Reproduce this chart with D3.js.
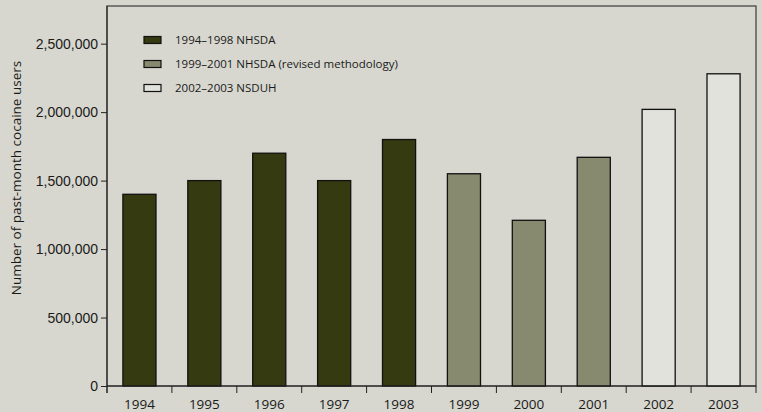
<!DOCTYPE html>
<html>
<head>
<meta charset="utf-8">
<script src="https://cdn.jsdelivr.net/npm/d3@7"></script>
<style>
  html, body { margin: 0; padding: 0; background: #d7d7cf; }
  svg { display: block; font-family: "Open Sans", "Noto Sans", sans-serif; }
</style>
</head>
<body>
<svg id="chart" width="762" height="412"></svg>
<script>
const years = ["1994", "1995", "1996", "1997", "1998", "1999", "2000", "2001", "2002", "2003"];
const users = [1400000, 1500000, 1700000, 1500000, 1800000, 1550000, 1210000, 1670000, 2020000, 2280000];
const survey = [0, 0, 0, 0, 0, 1, 1, 1, 2, 2];
const seriesNames = ["1994\u20131998 NHSDA", "1999\u20132001 NHSDA (revised methodology)", "2002\u20132003 NSDUH"];
const seriesColors = ["#353a10", "#878a6e", "#e1e2dc"];
const yTicks = [0, 500000, 1000000, 1500000, 2000000, 2500000];

const margin = { top: 6, right: 6, bottom: 26, left: 107 };
const width = 762, height = 412;

const svg = d3.select("#chart");

const x = d3.scaleBand()
  .domain(years)
  .range([margin.left, width - margin.right])
  .paddingInner(0.49)
  .paddingOuter(0.245);

const y = d3.scaleLinear()
  .domain([0, 2775000])
  .range([height - margin.bottom, margin.top]);

// plot frame
svg.append("rect")
  .attr("x", margin.left)
  .attr("y", margin.top)
  .attr("width", width - margin.right - margin.left)
  .attr("height", height - margin.bottom - margin.top)
  .attr("fill", "none")
  .attr("stroke", "#3a3a3a")
  .attr("stroke-width", 1.2);

// bars
svg.append("g")
  .selectAll("rect")
  .data(years)
  .join("rect")
  .attr("x", d => x(d))
  .attr("y", (d, i) => y(users[i]))
  .attr("width", x.bandwidth())
  .attr("height", (d, i) => y(0) - y(users[i]))
  .attr("fill", (d, i) => seriesColors[survey[i]])
  .attr("stroke", "#111")
  .attr("stroke-width", 1.3);

// y axis
const yAxis = svg.append("g")
  .attr("transform", `translate(${margin.left},0)`)
  .call(d3.axisLeft(y).tickValues(yTicks).tickFormat(d3.format(",")).tickSize(6).tickPadding(3));
yAxis.select(".domain").attr("stroke", "#222").attr("d", `M0,${margin.top}V${height - margin.bottom + 7}`);
yAxis.selectAll(".tick line").attr("stroke", "#222");
yAxis.selectAll("text").attr("fill", "#1a1a1a").style("font-size", "14px");

// x axis with ticks at band edges
const xAxis = svg.append("g")
  .attr("transform", `translate(0,${height - margin.bottom})`);
xAxis.append("line")
  .attr("x1", margin.left).attr("x2", width - margin.right)
  .attr("stroke", "#222");
const step = x.step();
const edges = years.map(d => x(d) - (step - x.bandwidth()) / 2).concat([width - margin.right]);
xAxis.selectAll(".edge")
  .data(edges)
  .join("line")
  .attr("class", "edge")
  .attr("x1", d => d).attr("x2", d => d)
  .attr("y1", 0).attr("y2", 7)
  .attr("stroke", "#222");
xAxis.selectAll(".lab")
  .data(years)
  .join("text")
  .attr("class", "lab")
  .attr("x", d => x(d) + x.bandwidth() / 2)
  .attr("y", 23)
  .attr("text-anchor", "middle")
  .attr("fill", "#1a1a1a")
  .style("font-size", "13.5px")
  .text(d => d);

// y axis title
svg.append("text")
  .attr("transform", "translate(21,178) rotate(-90)")
  .attr("text-anchor", "middle")
  .attr("fill", "#1a1a1a")
  .style("font-size", "13.5px")
  .text("Number of past-month cocaine users");

// legend
const legend = svg.append("g")
  .selectAll("g")
  .data(seriesNames)
  .join("g")
  .attr("transform", (d, i) => `translate(144,${40 + i * 24})`);
legend.append("rect")
  .attr("x", 0).attr("y", -3.5)
  .attr("width", 17).attr("height", 7)
  .attr("fill", (d, i) => seriesColors[i])
  .attr("stroke", "#111")
  .attr("stroke-width", 1.2);
legend.append("text")
  .attr("x", 31)
  .attr("y", 4)
  .attr("fill", "#1a1a1a")
  .style("font-size", "11.5px")
  .text(d => d);
</script>
</body>
</html>
